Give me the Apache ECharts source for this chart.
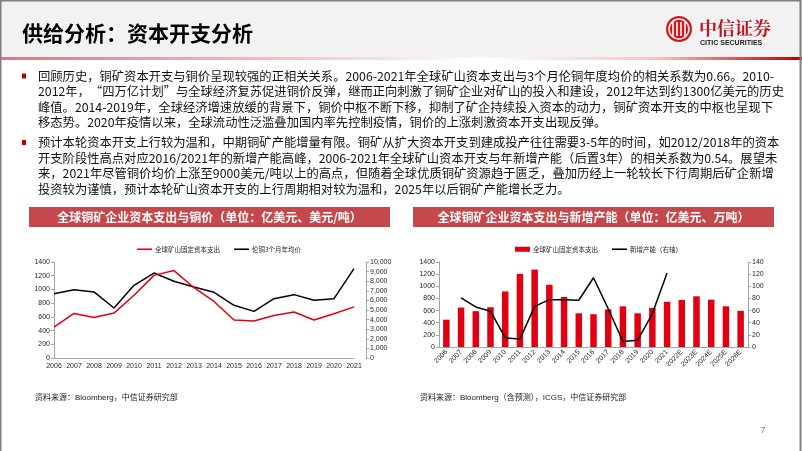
<!DOCTYPE html>
<html><head><meta charset="utf-8">
<script src="https://cdn.jsdelivr.net/npm/echarts@6/dist/echarts.min.js"></script>
<style>html,body{margin:0;padding:0;background:#fff}#c{width:802px;height:451px}</style>
</head><body><div id="c"></div>
<script>
// ---- data ----
const years1 = ['2006','2007','2008','2009','2010','2011','2012','2013','2014','2015','2016','2017','2018','2019','2020','2021'];
const capexLine = [450, 650, 590, 655, 915, 1205, 1275, 1025, 825, 555, 540, 620, 670, 555, 645, 745];
const lmePrice = [6700, 7120, 6880, 5210, 7570, 8850, 7990, 7400, 6840, 5490, 4860, 6180, 6600, 6010, 6180, 9310];

const years2 = ['2006','2007','2008','2009','2010','2011','2012','2013','2014','2015','2016','2017','2018','2019','2020','2021','2022E','2023E','2024E','2025E','2026E'];
const capexBar = [450, 650, 590, 655, 915, 1205, 1275, 1025, 825, 555, 540, 620, 670, 555, 645, 745, 775, 835, 780, 670, 595];
const newCapacity = [null, 81, 66, 59, 15, 13, 67, 78, 78, 77, 114, 63, 9, 11, 55, 122, null, null, null, null, null];

const nameCapex = '全球矿山固定资本支出';
const namePrice = '伦铜3个月年均价';
const nameNewCap = '新增产能（右轴）';

const titleText = '供给分析：资本开支分析';
const para1 = [
 '回顾历史，铜矿资本开支与铜价呈现较强的正相关关系。2006-2021年全球矿山资本支出与3个月伦铜年度均价的相关系数为0.66。2010-',
 '2012年，“四万亿计划”与全球经济复苏促进铜价反弹，继而正向刺激了铜矿企业对矿山的投入和建设，2012年达到约1300亿美元的历史',
 '峰值。2014-2019年，全球经济增速放缓的背景下，铜价中枢不断下移，抑制了矿企持续投入资本的动力，铜矿资本开支的中枢也呈现下',
 '移态势。2020年疫情以来，全球流动性泛滥叠加国内率先控制疫情，铜价的上涨刺激资本开支出现反弹。'
];
const para2 = [
 '预计本轮资本开支上行较为温和，中期铜矿产能增量有限。铜矿从扩大资本开支到建成投产往往需要3-5年的时间，如2012/2018年的资本',
 '开支阶段性高点对应2016/2021年的新增产能高峰，2006-2021年全球矿山资本开支与年新增产能（后置3年）的相关系数为0.54。展望未',
 '来，2021年尽管铜价均价上涨至9000美元/吨以上的高点，但随着全球优质铜矿资源趋于匮乏，叠加历经上一轮较长下行周期后矿企新增',
 '投资较为谨慎，预计本轮矿山资本开支的上行周期相对较为温和，2025年以后铜矿产能增长乏力。'
];
const chartTitle1 = '全球铜矿企业资本支出与铜价（单位：亿美元、美元/吨）';
const chartTitle2 = '全球铜矿企业资本支出与新增产能（单位：亿美元、万吨）';
const source1 = '资料来源：Bloomberg，中信证券研究部';
const source2 = '资料来源：Bloomberg（含预测），ICGS，中信证券研究部';
const pageNo = '7';

// ---- styles ----
const FONT = "'Liberation Sans','Noto Sans CJK SC',sans-serif";
const CJK = "'Noto Sans CJK SC','Liberation Sans',sans-serif";
const RED = '#e00012';
const AX = '#a6a6a6';
const LAB = '#262626';

const chart = echarts.init(document.getElementById('c'), null, {renderer: 'canvas'});

const graphics = [];
// title bar
graphics.push({type:'rect', shape:{x:0,y:0,width:802,height:57}, style:{fill:'#f2f2f2'}, z:0});
graphics.push({type:'rect', shape:{x:0,y:57,width:802,height:3}, style:{fill:new echarts.graphic.LinearGradient(0,0,1,0,[
  {offset:0,color:'#cf7d86'},{offset:0.38,color:'#f0c9cd'},{offset:0.6,color:'#ffffff'},{offset:0.82,color:'#f2c4c4'},{offset:1,color:'#b80000'}])}, z:1});
graphics.push({type:'text', style:{text:titleText, x:22, y:33, fill:'#000', font:"bold 21px "+CJK, textVerticalAlign:'middle'}, z:2});
// logo
graphics.push({type:'circle', shape:{cx:679,cy:29,r:13}, style:{fill:'#d7141e'}, z:2});
graphics.push({type:'circle', shape:{cx:679,cy:29,r:10}, style:{fill:'none', stroke:'#fff', lineWidth:1.5}, z:3});
[673,677,681,685].forEach(function(x){
  graphics.push({type:'rect', shape:{x:x-0.8,y:22,width:1.6,height:14}, style:{fill:'#fff'}, z:3});
});
graphics.push({type:'text', style:{text:'中信证券', x:699, y:28, fill:'#c0141c', font:"bold 18px 'Noto Serif CJK SC','Noto Sans CJK SC',serif", textVerticalAlign:'middle'}, z:2});
graphics.push({type:'text', style:{text:'CITIC SECURITIES', x:700, y:43, fill:'#222', font:"bold 7px 'Liberation Sans Narrow','Liberation Sans',sans-serif", textVerticalAlign:'middle'}, z:2});

// body paragraphs
const LH = 15.5;
function addPara(lines, y0){
  graphics.push({type:'rect', shape:{x:22,y:y0-2.5,width:4,height:5}, style:{fill:'#c00000'}});
  lines.forEach(function(t,i){
    graphics.push({type:'text', style:{text:t, x:38, y:y0+i*LH, fill:'#111', font:"12.3px "+CJK, textVerticalAlign:'middle'}});
  });
}
addPara(para1, 76);
addPara(para2, 142.5);

// chart header bars
graphics.push({type:'rect', shape:{x:29,y:207,width:361,height:20}, style:{fill:'#c5484c'}});
graphics.push({type:'text', style:{text:chartTitle1, x:209.5, y:217, fill:'#fff', font:"bold 12px "+CJK, textAlign:'center', textVerticalAlign:'middle'}});
graphics.push({type:'rect', shape:{x:413,y:207,width:361,height:20}, style:{fill:'#c5484c'}});
graphics.push({type:'text', style:{text:chartTitle2, x:593.5, y:217, fill:'#fff', font:"bold 12px "+CJK, textAlign:'center', textVerticalAlign:'middle'}});

// sources and page number
graphics.push({type:'text', style:{text:source1, x:35, y:398, fill:'#222', font:"8px "+FONT, textVerticalAlign:'middle'}});
graphics.push({type:'text', style:{text:source2, x:420, y:398, fill:'#222', font:"8px "+FONT, textVerticalAlign:'middle'}});
graphics.push({type:'text', style:{text:pageNo, x:763, y:431, fill:'#7f7f7f', font:"9px "+FONT, textAlign:'center', textVerticalAlign:'middle'}});
// page border
graphics.push({type:'rect', shape:{x:0.5,y:0.5,width:800,height:460}, style:{fill:'none', stroke:'#7f7f7f', lineWidth:2}, z:5});

const lineIcon = 'path://M0,0H15V1.6H0Z';
const barIcon = 'path://M0,0H15V5H0Z';

function valAxis(gridIndex, position, max, interval, offset, fmt){
  return {
    type:'value', gridIndex:gridIndex, position:position, min:0, max:max, interval:interval, offset:offset||0,
    axisLine:{show:true, lineStyle:{color:AX, width:1}},
    axisTick:{show:true, length:3, lineStyle:{color:AX}},
    splitLine:{show:false},
    axisLabel:{fontSize:7, color:LAB, fontFamily:FONT, margin:4, formatter:fmt}
  };
}
const plain = function(v){ return String(v); };
const comma = function(v){ return v.toLocaleString('en-US'); };

const option = {
  animation:false,
  textStyle:{fontFamily:FONT},
  graphic:{elements:graphics},
  legend:[
    {left:132, top:241, itemWidth:15, itemHeight:6, itemGap:14, selectedMode:false,
     textStyle:{fontSize:6.5, color:LAB, fontFamily:CJK, padding:[0,0,0,-2]},
     data:[{name:nameCapex, icon:lineIcon}, {name:namePrice, icon:lineIcon}]},
    {left:510, top:241, itemWidth:15, itemHeight:6, itemGap:14, selectedMode:false,
     textStyle:{fontSize:6.5, color:LAB, fontFamily:CJK, padding:[0,0,0,-2]},
     data:[{name:nameCapex, icon:barIcon}, {name:nameNewCap, icon:lineIcon}]}
  ],
  grid:[
    {left:54, top:262, width:300, height:96},
    {left:439, top:262, width:309, height:85}
  ],
  xAxis:[
    {type:'category', gridIndex:0, data:years1, boundaryGap:false,
     axisLine:{lineStyle:{color:AX}}, axisTick:{show:false},
     axisLabel:{fontSize:7, color:LAB, fontFamily:FONT, margin:5, interval:0}},
    {type:'category', gridIndex:1, data:years2, boundaryGap:true,
     axisLine:{lineStyle:{color:AX}}, axisTick:{show:false},
     axisLabel:{fontSize:7, color:LAB, fontFamily:FONT, margin:4, interval:0, rotate:45}}
  ],
  yAxis:[
    valAxis(0,'left',1400,200,0,plain),
    valAxis(0,'right',10000,1000,12,comma),
    valAxis(1,'left',1400,200,0,plain),
    valAxis(1,'right',140,20,0,plain)
  ],
  series:[
    {name:nameCapex, type:'line', xAxisIndex:0, yAxisIndex:0, data:capexLine, symbol:'none',
     lineStyle:{color:RED, width:1.5}, itemStyle:{color:RED}, z:3},
    {name:namePrice, type:'line', xAxisIndex:0, yAxisIndex:1, data:lmePrice, symbol:'none',
     lineStyle:{color:'#000', width:1.5}, itemStyle:{color:'#000'}, z:2},
    {name:nameCapex, type:'bar', xAxisIndex:1, yAxisIndex:2, data:capexBar, barWidth:6.5,
     itemStyle:{color:RED}},
    {name:nameNewCap, type:'line', xAxisIndex:1, yAxisIndex:3, data:newCapacity, symbol:'none',
     lineStyle:{color:'#000', width:1.5}, itemStyle:{color:'#000'}, z:4}
  ]
};
chart.setOption(option);
</script>
</body></html>
